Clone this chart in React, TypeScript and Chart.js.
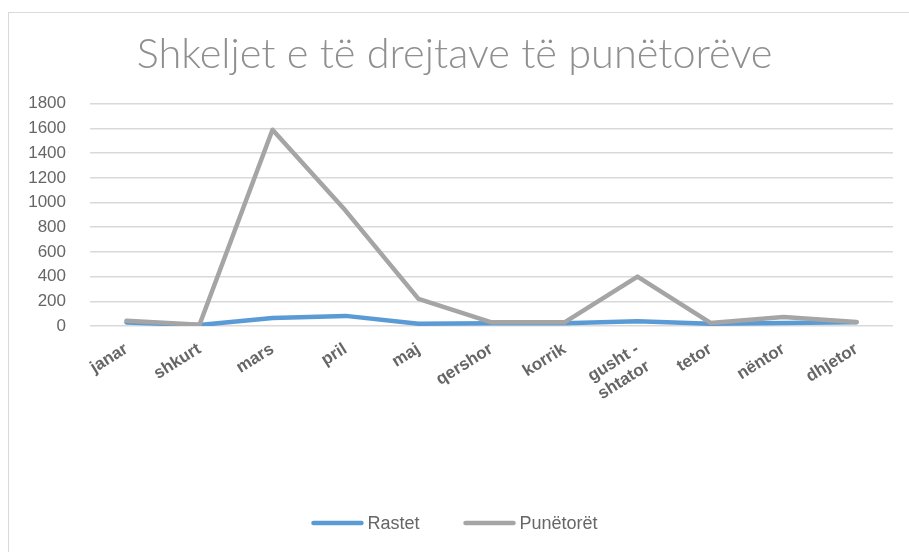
import React, { useEffect, useRef } from "react";
import { Chart, registerables } from "chart.js";

Chart.register(...registerables);

const TITLE = "Shkeljet e të drejtave të punëtorëve";
const categories: (string | string[])[] = [
  "janar",
  "shkurt",
  "mars",
  "pril",
  "maj",
  "qershor",
  "korrik",
  ["gusht -", "shtator"],
  "tetor",
  "nëntor",
  "dhjetor",
];
const seriesNames = ["Rastet", "Punëtorët"];
const rastet = [28, 8, 65, 82, 18, 22, 22, 38, 19, 25, 30];
const punetoret = [42, 10, 1590, 935, 220, 30, 30, 400, 25, 72, 33];
const yMin = 0;
const yMax = 1800;
const yStep = 200;

const BLUE = "#5b9bd5";
const GRAY = "#a5a5a5";
const TEXT = "#666666";
const GRID = "#d9d9d9";
const SANS = '"Liberation Sans", Arial, sans-serif';

const framePlugin = {
  id: "frame",
  beforeDraw(chart: any) {
    const ctx = chart.ctx;
    ctx.save();
    ctx.fillStyle = "#ffffff";
    ctx.fillRect(0, 0, chart.width, chart.height);
    ctx.strokeStyle = GRID;
    ctx.lineWidth = 1;
    ctx.strokeRect(8.5, 12.5, chart.width + 50, chart.height + 50);
    ctx.restore();
  },
};

const legendPlugin = {
  id: "customLegend",
  afterDraw(chart: any) {
    const ctx = chart.ctx;
    ctx.save();
    ctx.font = `18px ${SANS}`;
    const items = chart.data.datasets.map((ds: any) => ({
      label: ds.label,
      color: ds.borderColor,
      w: ctx.measureText(ds.label).width,
    }));
    const lineLen = 52;
    const gap = 4;
    const itemGap = 44;
    const total =
      items.reduce((s: number, it: any) => s + lineLen + gap + it.w, 0) +
      itemGap * (items.length - 1);
    let x = chart.width / 2 - total / 2;
    const y = 523;
    ctx.textBaseline = "middle";
    ctx.textAlign = "left";
    for (const it of items) {
      ctx.strokeStyle = it.color;
      ctx.lineWidth = 4.5;
      ctx.lineCap = "round";
      ctx.beginPath();
      ctx.moveTo(x + 2, y);
      ctx.lineTo(x + lineLen - 2, y);
      ctx.stroke();
      ctx.fillStyle = TEXT;
      ctx.fillText(it.label, x + lineLen + gap, y + 1);
      x += lineLen + gap + it.w + itemGap;
    }
    ctx.restore();
  },
};

export default function App() {
  const ref = useRef<HTMLCanvasElement | null>(null);

  useEffect(() => {
    if (!ref.current) return;
    const chart = new Chart(ref.current, {
      type: "line",
      data: {
        labels: categories as any,
        datasets: [
          {
            label: seriesNames[0],
            data: rastet,
            borderColor: BLUE,
            backgroundColor: BLUE,
            borderWidth: 4.5,
            pointRadius: 0,
            tension: 0,
            borderJoinStyle: "round",
            borderCapStyle: "round",
            order: 1,
          },
          {
            label: seriesNames[1],
            data: punetoret,
            borderColor: GRAY,
            backgroundColor: GRAY,
            borderWidth: 4.5,
            pointRadius: 0,
            tension: 0,
            borderJoinStyle: "round",
            borderCapStyle: "round",
            order: 0,
          },
        ],
      },
      options: {
        animation: false,
        responsive: false,
        maintainAspectRatio: false,
        layout: { padding: { left: 0, right: 0, top: 0, bottom: 76 } },
        plugins: {
          legend: { display: false },
          tooltip: { enabled: false },
          title: {
            display: true,
            text: TITLE,
            color: "#8f8f8f",
            font: { family: "Lato", size: 41.5, weight: "300" as any, lineHeight: 1.2 },
            padding: { top: 30, bottom: 24 },
          },
        },
        scales: {
          x: {
            offset: true,
            grid: { display: false, drawTicks: false },
            border: { display: false },
            ticks: {
              color: TEXT,
              font: { family: SANS, size: 17, weight: "bold" },
              maxRotation: 32,
              minRotation: 32,
              padding: 13,
              autoSkip: false,
            },
            afterFit(scale: any) {
              scale.height = 150;
            },
          },
          y: {
            min: yMin,
            max: yMax,
            grid: { color: GRID, lineWidth: 1.5, drawTicks: false },
            border: { display: false },
            ticks: {
              stepSize: yStep,
              autoSkip: false,
              color: TEXT,
              font: { family: SANS, size: 17 },
              padding: 24,
              callback: (v: any) => String(v),
            },
            afterFit(scale: any) {
              scale.width = 90;
            },
          },
          yRight: {
            position: "right",
            display: true,
            min: yMin,
            max: yMax,
            grid: { display: false, drawTicks: false },
            border: { display: false },
            ticks: { display: false },
            afterFit(scale: any) {
              scale.width = 16;
            },
          },
        },
      },
      plugins: [framePlugin, legendPlugin],
    });
    return () => chart.destroy();
  }, []);

  return (
    <canvas
      ref={ref}
      width={909}
      height={552}
      style={{ position: "fixed", left: 0, top: 0, width: 909, height: 552 }}
    />
  );
}
